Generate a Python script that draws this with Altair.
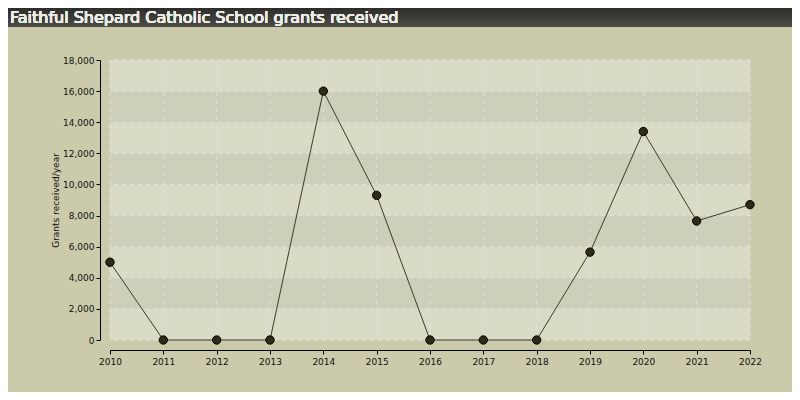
import altair as alt
import pandas as pd

years = [2010, 2011, 2012, 2013, 2014, 2015, 2016, 2017, 2018, 2019, 2020, 2021, 2022]
grants = [5000, 0, 0, 0, 16000, 9300, 0, 0, 0, 5650, 13400, 7650, 8700]

band_start = [0, 2000, 4000, 6000, 8000, 10000, 12000, 14000, 16000]
band_end = [2000, 4000, 6000, 8000, 10000, 12000, 14000, 16000, 18000]
band_shade = ["light", "dark", "light", "dark", "light", "dark", "light", "dark", "light"]
y_ticks = [0, 2000, 4000, 6000, 8000, 10000, 12000, 14000, 16000, 18000]

title_text = "Faithful Shepard Catholic School grants received"

df = pd.DataFrame({"year": years, "grants": grants})
bands_df = pd.DataFrame({"start": band_start, "end": band_end, "shade": band_shade})
years_df = pd.DataFrame({"year": years})
yticks_df = pd.DataFrame({"value": y_ticks})

x_scale = alt.Scale(domain=[2010, 2022], nice=False, zero=False)
y_scale = alt.Scale(domain=[0, 18000], nice=False)
grid_color = "#e0e1d9"

bands = (
    alt.Chart(bands_df)
    .mark_rect()
    .encode(
        y=alt.Y("start:Q", scale=y_scale, axis=None),
        y2="end:Q",
        color=alt.Color(
            "shade:N",
            scale=alt.Scale(domain=["light", "dark"], range=["#d9dbc5", "#cecfb8"]),
            legend=None,
        ),
    )
)

# dashed grid, drawn as rules so it sits above the bands but under the line
vgrid = (
    alt.Chart(years_df)
    .mark_rule(color=grid_color, strokeDash=[4, 4], strokeWidth=1)
    .encode(x=alt.X("year:Q", scale=x_scale, axis=None))
)
hgrid = (
    alt.Chart(yticks_df)
    .mark_rule(color=grid_color, strokeDash=[4, 4], strokeWidth=1)
    .encode(y=alt.Y("value:Q", scale=y_scale, axis=None))
)

line = (
    alt.Chart(df)
    .mark_line(color="#3d3b28", strokeWidth=1)
    .encode(
        x=alt.X(
            "year:Q",
            scale=x_scale,
            axis=alt.Axis(
                values=years,
                format="d",
                title=None,
                offset=10,
                grid=False,
                tickSize=4,
                labelFlush=False,
                labelPadding=3,
            ),
        ),
        y=alt.Y(
            "grants:Q",
            scale=y_scale,
            axis=alt.Axis(
                values=y_ticks,
                format=",.0f",
                title="Grants received/year",
                offset=10,
                grid=False,
                tickSize=4,
                labelOverlap=False,
                titlePadding=2,
            ),
        ),
    )
)

points = (
    alt.Chart(df)
    .mark_circle(size=70, color="#2e2a18", opacity=1, stroke="#000000", strokeWidth=1)
    .encode(
        x=alt.X("year:Q", scale=x_scale, axis=None),
        y=alt.Y("grants:Q", scale=y_scale, axis=None),
    )
)

title_bar = alt.Chart(df).mark_rect(
    color=alt.LinearGradient(
        gradient="linear",
        stops=[
            alt.GradientStop(color="#2c2c29", offset=0),
            alt.GradientStop(color="#4e4e47", offset=1),
        ],
        x1=0, x2=0, y1=0, y2=1,
    )
).encode(
    x=alt.value(-102), x2=alt.value(682), y=alt.value(-52), y2=alt.value(-33)
)

title = alt.Chart(df).mark_text(
    text=title_text,
    align="left",
    baseline="middle",
    font="DejaVu Sans",
    fontSize=16,
    color="#ececE6",
).encode(x=alt.value(-100), y=alt.value(-42))

chart = (
    alt.layer(bands, vgrid, hgrid, line, points, title_bar, title)
    .resolve_scale(color="independent")
    .resolve_axis(x="independent", y="independent")
    .properties(
        width=640,
        height=280,
        padding={"left": 102, "top": 52, "right": 42, "bottom": 52},
        autosize=alt.AutoSizeParams(type="none"),
        background="#cbcbab",
    )
    .configure_view(stroke=None)
    .configure_axis(
        domainColor="#000000",
        tickColor="#000000",
        labelFont="DejaVu Sans",
        labelFontSize=9,
        labelColor="#111111",
        titleFont="DejaVu Sans",
        titleFontSize=9,
        titleFontWeight="normal",
        titleColor="#111111",
    )
)

chart.save("out.html", embed_options={"renderer": "svg", "actions": False})
